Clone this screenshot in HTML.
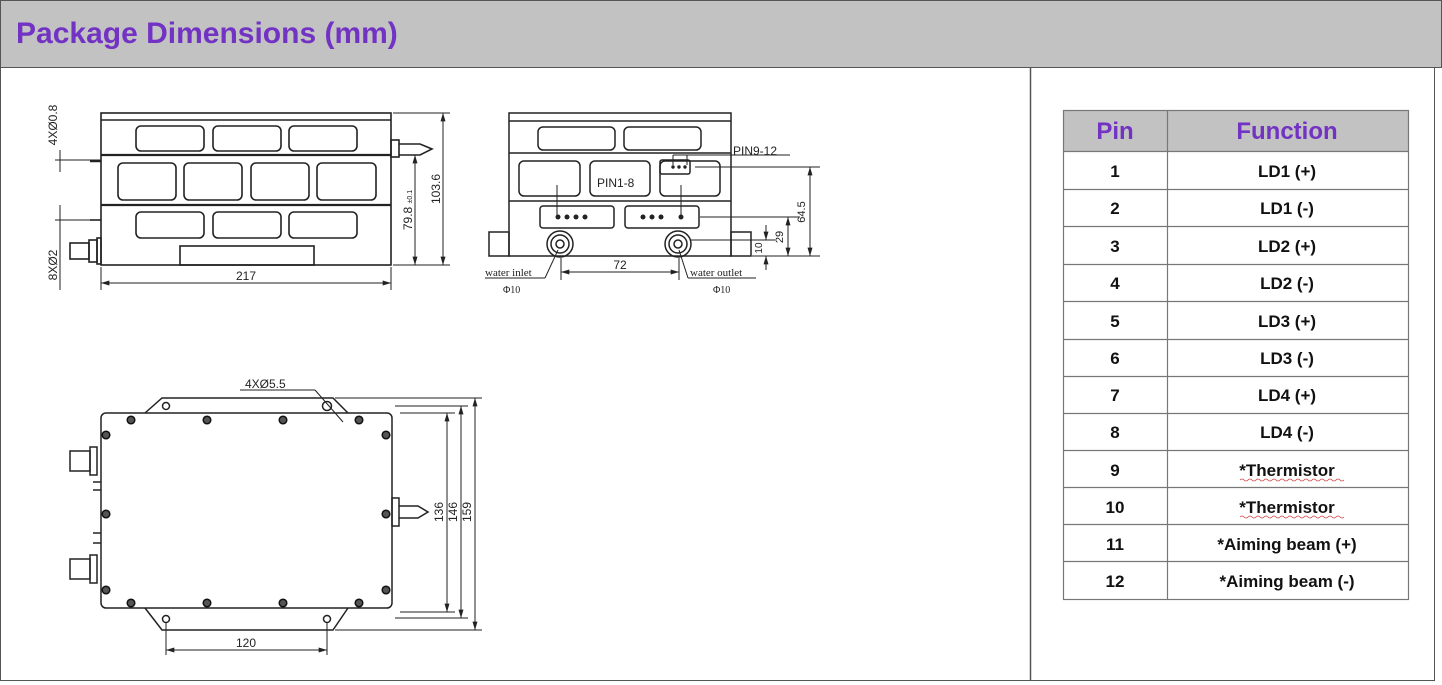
<!DOCTYPE html>
<html><head><meta charset="utf-8"><style>
html,body{margin:0;padding:0;background:#fff;}
svg{display:block;font-family:"Liberation Sans",sans-serif;}
</style></head><body>
<svg width="1442" height="685" viewBox="0 0 1442 685" xmlns="http://www.w3.org/2000/svg">
<defs>
<marker id="a" viewBox="0 0 10 6" refX="10" refY="3" markerWidth="9" markerHeight="5" orient="auto-start-reverse"><path d="M0,0L10,3L0,6z" fill="#222"/></marker>
</defs>
<rect x="0.5" y="0.5" width="1434" height="680" fill="#fff" stroke="#555"/>
<rect x="0.5" y="0.5" width="1441" height="67" fill="#c2c2c2" stroke="#555"/>
<text x="16" y="43" font-size="30" font-weight="bold" fill="#7232c4">Package Dimensions (mm)</text>
<line x1="1030.5" y1="68" x2="1030.5" y2="681" stroke="#555" stroke-width="1.5"/>

<g fill="none" stroke="#222" stroke-width="1.6">
<rect x="101" y="113" width="290" height="152"/>
<line x1="101" y1="120" x2="391" y2="120"/>
<line x1="101" y1="155" x2="391" y2="155" stroke-width="2.2"/>
<line x1="101" y1="205" x2="391" y2="205" stroke-width="2.2"/>
<rect x="136" y="126" width="68" height="25" rx="5"/><rect x="213" y="126" width="68" height="25" rx="5"/><rect x="289" y="126" width="68" height="25" rx="5"/>
<rect x="118" y="163" width="58" height="37" rx="5"/><rect x="184" y="163" width="58" height="37" rx="5"/><rect x="251" y="163" width="58" height="37" rx="5"/><rect x="317" y="163" width="59" height="37" rx="5"/>
<rect x="136" y="212" width="68" height="26" rx="5"/><rect x="213" y="212" width="68" height="26" rx="5"/><rect x="289" y="212" width="68" height="26" rx="5"/>
<rect x="180" y="246" width="134" height="19"/>
<rect x="391" y="140" width="8" height="17"/><path d="M399,144 L420,144 L432,149 L420,155 L399,155"/>
<rect x="89" y="240" width="8" height="22"/><rect x="70" y="243" width="19" height="16"/><rect x="97" y="238" width="4" height="26"/>
<line x1="90" y1="161" x2="101" y2="161" stroke-width="2.5"/>
<line x1="90" y1="220" x2="101" y2="220"/>
</g>
<g stroke="#222" stroke-width="1" fill="none">
<line x1="393" y1="113" x2="450" y2="113"/><line x1="393" y1="265" x2="450" y2="265"/>
<line x1="443" y1="113" x2="443" y2="265" marker-start="url(#a)" marker-end="url(#a)"/>
<line x1="400" y1="155" x2="420" y2="155"/>
<line x1="415" y1="155" x2="415" y2="265" marker-start="url(#a)" marker-end="url(#a)"/>
<line x1="101" y1="267" x2="101" y2="290"/><line x1="391" y1="267" x2="391" y2="290"/>
<line x1="101" y1="283" x2="391" y2="283" marker-start="url(#a)" marker-end="url(#a)"/>
<line x1="55" y1="160" x2="100" y2="160"/><line x1="60" y1="150" x2="60" y2="172"/>
<line x1="55" y1="220" x2="100" y2="220"/><line x1="60" y1="205" x2="60" y2="290"/>
</g>
<g fill="#222" font-size="12">
<text x="246" y="280" text-anchor="middle">217</text>
<text transform="translate(440,189) rotate(-90)" text-anchor="middle">103.6</text>
<text transform="translate(412,210) rotate(-90)" text-anchor="middle">79.8 <tspan font-size="7">±0.1</tspan></text>
<text transform="translate(57,125) rotate(-90)" text-anchor="middle">4XØ0.8</text>
<text transform="translate(57,265) rotate(-90)" text-anchor="middle">8XØ2</text>
</g>

<g fill="none" stroke="#222" stroke-width="1.5">
<rect x="509" y="113" width="222" height="143"/>
<line x1="509" y1="121" x2="731" y2="121"/>
<line x1="509" y1="153" x2="731" y2="153"/>
<line x1="509" y1="201" x2="731" y2="201"/>
<rect x="538" y="127" width="77" height="23" rx="5"/><rect x="624" y="127" width="77" height="23" rx="5"/>
<rect x="519" y="161" width="61" height="35" rx="5"/><rect x="590" y="161" width="60" height="35" rx="5"/><rect x="660" y="161" width="60" height="35" rx="5"/>
<rect x="540" y="206" width="74" height="22" rx="3"/><rect x="625" y="206" width="74" height="22" rx="3"/>
<rect x="660" y="160" width="30" height="14" rx="2"/>
<rect x="489" y="232" width="20" height="24"/><rect x="731" y="232" width="20" height="24"/>
<circle cx="560" cy="244" r="13"/><circle cx="560" cy="244" r="9"/><circle cx="560" cy="244" r="4"/>
<circle cx="678" cy="244" r="13"/><circle cx="678" cy="244" r="9"/><circle cx="678" cy="244" r="4"/>
</g>
<g fill="#222">
<circle cx="558" cy="217" r="2.5"/><circle cx="567" cy="217" r="2.5"/><circle cx="576" cy="217" r="2.5"/><circle cx="585" cy="217" r="2.5"/>
<circle cx="643" cy="217" r="2.5"/><circle cx="652" cy="217" r="2.5"/><circle cx="661" cy="217" r="2.5"/><circle cx="681" cy="217" r="2.5"/>
<circle cx="673" cy="167" r="1.7"/><circle cx="679" cy="167" r="1.7"/><circle cx="685" cy="167" r="1.7"/>
</g>
<g stroke="#222" stroke-width="1" fill="none">
<line x1="557" y1="185" x2="557" y2="217"/><line x1="681" y1="185" x2="681" y2="217"/>
<line x1="673" y1="155" x2="673" y2="165"/><line x1="687" y1="155" x2="687" y2="165"/><line x1="673" y1="155" x2="790" y2="155"/>
<line x1="695" y1="167" x2="820" y2="167"/>
<line x1="700" y1="217" x2="800" y2="217"/>
<line x1="690" y1="240" x2="775" y2="240"/>
<line x1="752" y1="256" x2="820" y2="256"/>
<line x1="810" y1="167" x2="810" y2="256" marker-start="url(#a)" marker-end="url(#a)"/>
<line x1="788" y1="217" x2="788" y2="256" marker-start="url(#a)" marker-end="url(#a)"/>
<line x1="766" y1="225" x2="766" y2="240" marker-end="url(#a)"/>
<line x1="766" y1="270" x2="766" y2="256" marker-end="url(#a)"/>
<line x1="561" y1="258" x2="561" y2="280"/><line x1="679" y1="258" x2="679" y2="280"/>
<line x1="561" y1="272" x2="679" y2="272" marker-start="url(#a)" marker-end="url(#a)"/>
<line x1="485" y1="278" x2="545" y2="278"/><line x1="545" y1="278" x2="558" y2="250"/>
<line x1="688" y1="278" x2="756" y2="278"/><line x1="688" y1="278" x2="679" y2="250"/>
</g>
<g fill="#222" font-size="12">
<text x="733" y="155">PIN9-12</text>
<text x="597" y="187">PIN1-8</text>
<text x="620" y="269" text-anchor="middle">72</text>
<text transform="translate(805,212) rotate(-90)" text-anchor="middle" font-size="11">64.5</text>
<text transform="translate(783,237) rotate(-90)" text-anchor="middle" font-size="11">29</text>
<text transform="translate(762,248) rotate(-90)" text-anchor="middle" font-size="10">10</text>
<text x="485" y="276" font-family="Liberation Serif" font-size="11">water inlet</text>
<text x="690" y="276" font-family="Liberation Serif" font-size="11">water outlet</text>
<text x="503" y="293" font-family="Liberation Serif" font-size="10">Φ10</text>
<text x="713" y="293" font-family="Liberation Serif" font-size="10">Φ10</text>
</g>

<g fill="none" stroke="#222" stroke-width="1.5">
<path d="M145,413 L162,398 L333,398 L348,413"/>
<path d="M145,608 L162,630 L333,630 L348,608"/>
<rect x="101" y="413" width="291" height="195" rx="5" fill="#fff"/>
<rect x="392" y="498" width="7" height="28"/><path d="M399,506 L418,506 L428,512 L418,518 L399,518"/>
<rect x="70" y="451" width="20" height="20"/><rect x="90" y="447" width="7" height="28"/>
<rect x="70" y="559" width="20" height="20"/><rect x="90" y="555" width="7" height="28"/>
<line x1="93" y1="482" x2="101" y2="482"/><line x1="93" y1="490" x2="101" y2="490"/>
<line x1="93" y1="533" x2="101" y2="533"/><line x1="93" y1="543" x2="101" y2="543"/>
<circle cx="166" cy="406" r="3.5"/><circle cx="327" cy="406" r="4.5"/>
<circle cx="166" cy="619" r="3.5"/><circle cx="327" cy="619" r="3.5"/>
</g>
<g fill="#555" stroke="#111" stroke-width="1.5">
<circle cx="131" cy="420" r="3.8"/><circle cx="207" cy="420" r="3.8"/><circle cx="283" cy="420" r="3.8"/><circle cx="359" cy="420" r="3.8"/>
<circle cx="131" cy="603" r="3.8"/><circle cx="207" cy="603" r="3.8"/><circle cx="283" cy="603" r="3.8"/><circle cx="359" cy="603" r="3.8"/>
<circle cx="106" cy="435" r="3.8"/><circle cx="106" cy="514" r="3.8"/><circle cx="106" cy="590" r="3.8"/>
<circle cx="386" cy="435" r="3.8"/><circle cx="386" cy="514" r="3.8"/><circle cx="386" cy="590" r="3.8"/>
</g>
<g stroke="#222" stroke-width="1" fill="none">
<line x1="240" y1="390" x2="315" y2="390"/><line x1="315" y1="390" x2="343" y2="422"/>
<line x1="400" y1="413" x2="455" y2="413"/><line x1="395" y1="406" x2="468" y2="406"/><line x1="335" y1="398" x2="482" y2="398"/>
<line x1="400" y1="612" x2="455" y2="612"/><line x1="395" y1="618" x2="468" y2="618"/><line x1="335" y1="630" x2="482" y2="630"/>
<line x1="447" y1="413" x2="447" y2="612" marker-start="url(#a)" marker-end="url(#a)"/>
<line x1="461" y1="406" x2="461" y2="618" marker-start="url(#a)" marker-end="url(#a)"/>
<line x1="475" y1="398" x2="475" y2="630" marker-start="url(#a)" marker-end="url(#a)"/>
<line x1="166" y1="622" x2="166" y2="655"/><line x1="327" y1="622" x2="327" y2="655"/>
<line x1="166" y1="650" x2="327" y2="650" marker-start="url(#a)" marker-end="url(#a)"/>
</g>
<g fill="#222" font-size="12">
<text x="245" y="388">4XØ5.5</text>
<text x="246" y="647" text-anchor="middle">120</text>
<text transform="translate(443,512) rotate(-90)" text-anchor="middle">136</text>
<text transform="translate(457,512) rotate(-90)" text-anchor="middle">146</text>
<text transform="translate(471,512) rotate(-90)" text-anchor="middle">159</text>
</g>

<rect x="1063.5" y="110.5" width="345" height="41" fill="#c2c2c2"/>
<g stroke="#777" stroke-width="1.2" fill="none">
<rect x="1063.5" y="110.5" width="345" height="489"/>
<line x1="1167.5" y1="110" x2="1167.5" y2="599"/>
<line x1="1063" y1="151.5" x2="1408" y2="151.5"/>
<line x1="1063" y1="189.5" x2="1408" y2="189.5"/>
<line x1="1063" y1="226.5" x2="1408" y2="226.5"/>
<line x1="1063" y1="264.5" x2="1408" y2="264.5"/>
<line x1="1063" y1="301.5" x2="1408" y2="301.5"/>
<line x1="1063" y1="339.5" x2="1408" y2="339.5"/>
<line x1="1063" y1="376.5" x2="1408" y2="376.5"/>
<line x1="1063" y1="413.5" x2="1408" y2="413.5"/>
<line x1="1063" y1="450.5" x2="1408" y2="450.5"/>
<line x1="1063" y1="487.5" x2="1408" y2="487.5"/>
<line x1="1063" y1="524.5" x2="1408" y2="524.5"/>
<line x1="1063" y1="561.5" x2="1408" y2="561.5"/>
</g>
<g font-weight="bold" fill="#7232c4" font-size="24" text-anchor="middle">
<text x="1115" y="139">Pin</text><text x="1287" y="139">Function</text>
</g>
<g font-weight="bold" fill="#111" font-size="17" text-anchor="middle">
<text x="1115" y="177">1</text><text x="1287" y="177">LD1 (+)</text>
<text x="1115" y="214">2</text><text x="1287" y="214">LD1 (-)</text>
<text x="1115" y="252">3</text><text x="1287" y="252">LD2 (+)</text>
<text x="1115" y="289">4</text><text x="1287" y="289">LD2 (-)</text>
<text x="1115" y="327">5</text><text x="1287" y="327">LD3 (+)</text>
<text x="1115" y="364">6</text><text x="1287" y="364">LD3 (-)</text>
<text x="1115" y="401">7</text><text x="1287" y="401">LD4 (+)</text>
<text x="1115" y="438">8</text><text x="1287" y="438">LD4 (-)</text>
<text x="1115" y="476">9</text><text x="1287" y="476">*Thermistor</text>
<text x="1115" y="513">10</text><text x="1287" y="513">*Thermistor</text>
<text x="1115" y="550">11</text><text x="1287" y="550">*Aiming beam (+)</text>
<text x="1115" y="587">12</text><text x="1287" y="587">*Aiming beam (-)</text>
</g>
<path d="M1240,480 q2,-2 4,0 t4,0 t4,0 t4,0 t4,0 t4,0 t4,0 t4,0 t4,0 t4,0 t4,0 t4,0 t4,0 t4,0 t4,0 t4,0 t4,0 t4,0 t4,0 t4,0 t4,0 t4,0 t4,0 t4,0 t4,0 t4,0" stroke="#c44" stroke-width="0.8" fill="none"/>
<path d="M1240,517 q2,-2 4,0 t4,0 t4,0 t4,0 t4,0 t4,0 t4,0 t4,0 t4,0 t4,0 t4,0 t4,0 t4,0 t4,0 t4,0 t4,0 t4,0 t4,0 t4,0 t4,0 t4,0 t4,0 t4,0 t4,0 t4,0 t4,0" stroke="#c44" stroke-width="0.8" fill="none"/>
</svg>
</body></html>
